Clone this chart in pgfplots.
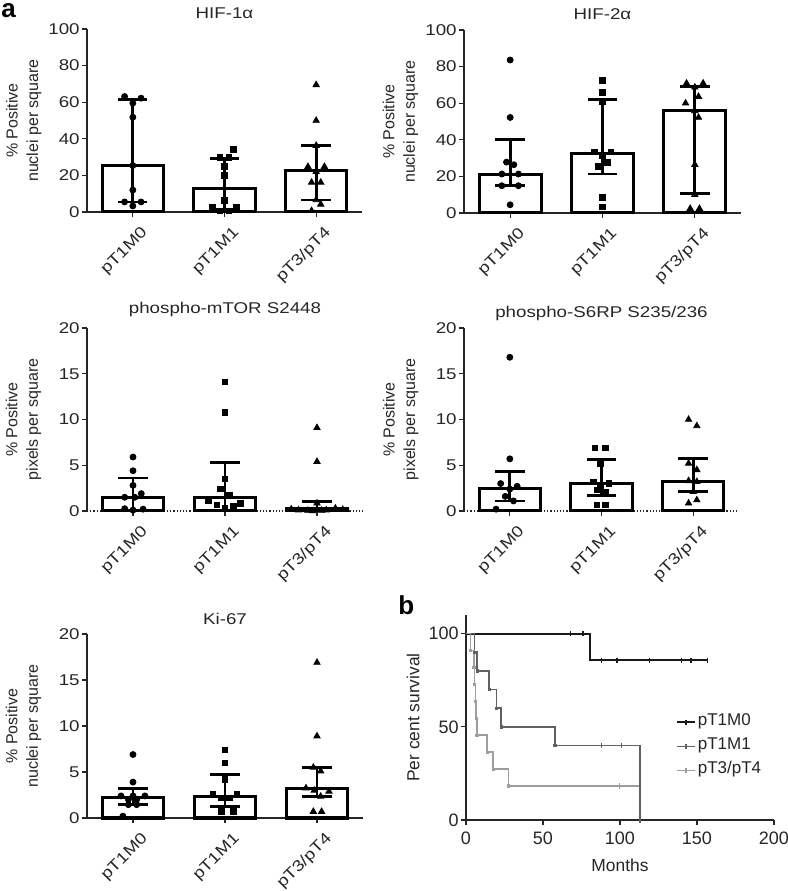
\documentclass[border=0pt]{standalone}
\usepackage{fontspec}
\setmainfont{Liberation Sans}
\newfontfamily\wide{Liberation Sans}[FakeStretch=1.2]
\usepackage{pgfplots}
\pgfplotsset{compat=1.18}

\definecolor{kmA}{gray}{0.1}
\definecolor{kmB}{gray}{0.38}
\definecolor{kmC}{gray}{0.62}

\tikzset{ttl/.style={anchor=base, yshift=5pt, font=\wide\fontsize{7.8}{9}\selectfont, text=black!85}}

\pgfplotsset{
  panel/.style={
    scale only axis, anchor=south west, clip=false,
    axis x line*=bottom, axis y line*=left,
    axis line style={-, line width=0.6pt, black!85},
    tick align=outside, major tick length=2.5pt,
    tick style={line width=0.6pt, black!85},
    /pgf/number format/assume math mode=true,
    ticklabel style={font=\wide\fontsize{7.8}{9}\selectfont, black!85},
    y tick label style={inner sep=1pt},
    label style={font=\fontsize{8}{9.75}\selectfont, black!85},
  },
  barpanel/.style={
    panel, height=91.5pt, xmin=-0.5, xmax=2.5, ymin=0,
    xtick={0,1,2}, xticklabels={pT1M0,pT1M1,pT3/pT4},
    x tick label style={yshift=-6pt, xshift=7pt, rotate=45, anchor=east, inner sep=1pt},
    ylabel style={align=center, at={(axis description cs:-0.14,0.5)}, anchor=south},
  },
  bars/.style={ybar, bar width=0.67, fill=white, draw=black, line width=1.5pt},
  circ/.style={only marks, mark=*, mark size=1.5pt, black},
  sq/.style={only marks, mark=square*, mark size=1.4pt, black},
  tri/.style={only marks, mark=triangle*, mark size=1.8pt, black},
  eb/.style={black, line width=1.4pt, unbounded coords=jump, mark=none},
}

\begin{document}
\begin{tikzpicture}
\useasboundingbox (0,0) rectangle (394pt,445.5pt);

\node[anchor=north west, inner sep=0pt, font=\bfseries\fontsize{13}{14}\selectfont] at (0.5pt,444pt) {a};
\node[anchor=north west, inner sep=0pt, font=\bfseries\fontsize{13}{14}\selectfont] at (199pt,148pt) {b};

% HIF-1alpha
\begin{axis}[barpanel, at={(43.5pt,339.5pt)}, width=137.5pt, ymax=100,
  ytick={0,20,40,60,80,100},
  ylabel={\% Positive\\[0.5pt]nuclei per square}]
\addplot[bars] coordinates {(0,25.4) (1,12.8) (2,22.6)};
\addplot[circ] coordinates {(-0.09,63.1) (0.09,62.2) (0,59.5) (0,51.8) (0,25.4) (0,12) (-0.09,5.5) (0.09,5.5) (0,3.3)};
\addplot[sq] coordinates {(1.10,34.3) (0.95,29.9) (1.05,29.9) (1,24.8) (1,19.9) (1,6.2) (0.87,2.6) (1.13,2.6) (0.95,0.7) (1.05,0.7)};
\addplot[tri] coordinates {(2,69.5) (2,50) (2,36.3) (1.91,24.8) (2.09,24.8) (2,22) (1.95,16.2) (2.05,16.2) (2,6.6) (2.05,4.2) (1.95,0.7)};
\addplot[eb] coordinates {
  (0,5.5) (0,61.3) (0,nan) (-0.16,61.3) (0.16,61.3) (0,nan) (-0.16,5.5) (0.16,5.5) (0,nan)
  (1,1.5) (1,29.2) (1,nan) (0.84,29.2) (1.16,29.2) (1,nan) (0.84,1.5) (1.16,1.5) (1,nan)
  (2,6.6) (2,36.3) (2,nan) (1.84,36.3) (2.16,36.3) (2,nan) (1.84,6.6) (2.16,6.6)};
\node[ttl] at (rel axis cs:0.5,1) {HIF-1α};
\end{axis}

% HIF-2alpha
\begin{axis}[barpanel, at={(232pt,339pt)}, width=138.5pt, ymax=100,
  ytick={0,20,40,60,80,100},
  ylabel={\% Positive\\[0.5pt]nuclei per square}]
\addplot[bars] coordinates {(0,20.9) (1,32.7) (2,55.8)};
\addplot[circ] coordinates {(0,83.6) (0,52.2) (-0.04,27.8) (0.04,26.4) (-0.09,21.3) (0.09,21.3) (-0.09,14.9) (0.09,14.9) (0,4.5)};
\addplot[sq] coordinates {(1,72.4) (1,65.8) (1,61) (0.91,33.3) (1.09,33.3) (1,31.5) (1.05,27.6) (0.95,25.5) (1,8.5) (1,3.3)};
\addplot[tri] coordinates {(1.91,70.9) (2.09,70.9) (2,68.7) (2.04,63.6) (1.9,60) (2,55.8) (2.04,52.2) (2,26.4) (2,10) (1.95,2.4) (2.05,2.4)};
\addplot[eb] coordinates {
  (0,14.9) (0,40) (0,nan) (-0.16,40) (0.16,40) (0,nan) (-0.16,14.9) (0.16,14.9) (0,nan)
  (1,21.3) (1,62.2) (1,nan) (0.84,62.2) (1.16,62.2) (1,nan) (0.84,21.3) (1.16,21.3) (1,nan)
  (2,10.5) (2,69.1) (2,nan) (1.84,69.1) (2.16,69.1) (2,nan) (1.84,10.5) (2.16,10.5)};
\node[ttl] at (rel axis cs:0.5,1) {HIF-2α};
\end{axis}

% phospho-mTOR
\begin{axis}[barpanel, at={(43.5pt,190pt)}, width=138pt, ymax=20,
  ytick={0,5,10,15,20},
  x axis line style={densely dotted, line width=0.9pt},
  ylabel={\% Positive\\[0.5pt]pixels per square}]
\addplot[bars] coordinates {(0,1.5) (1,1.5) (2,0.25)};
\addplot[circ] coordinates {(0,5.9) (0,4.4) (0,2.8) (0.09,1.9) (-0.09,1.5) (0.02,1.5) (-0.09,0.25) (0,0.1) (0.11,0.2)};
\addplot[sq] coordinates {(1,14.1) (1,10.8) (1,3.5) (0.95,2.4) (1.05,1.75) (0.82,1.1) (1.17,0.85) (0.91,0.65) (1.09,0.55) (1,0.3)};
\addplot[tri] coordinates {(2,9.1) (2,5.4) (2,0.85) (1.72,0.2) (1.8,0.1) (1.9,0.05) (1.95,0) (2.05,0.05) (2.1,0.1) (2.2,0.3) (2.28,0.15)};
\addplot[eb] coordinates {
  (0,0.1) (0,3.6) (0,nan) (-0.16,3.6) (0.16,3.6) (0,nan)
  (1,0.4) (1,5.3) (1,nan) (0.84,5.3) (1.16,5.3) (1,nan)
  (2,0) (2,1.0) (2,nan) (1.84,1.0) (2.16,1.0)};
\node[ttl, yshift=2pt] at (rel axis cs:0.5,1) {phospho-mTOR S2448};
\end{axis}

% phospho-S6RP
\begin{axis}[barpanel, at={(232pt,190pt)}, width=137.5pt, ymax=20,
  ytick={0,5,10,15,20},
  x axis line style={densely dotted, line width=0.9pt},
  ylabel={\% Positive\\[0.5pt]pixels per square}]
\addplot[bars] coordinates {(0,2.5) (1,3.0) (2,3.25)};
\addplot[circ] coordinates {(0,16.8) (0,5.7) (-0.1,3.0) (0.08,2.7) (0,2.4) (-0.05,1.6) (0.04,1.1) (-0.15,0.2)};
\addplot[sq] coordinates {(0.93,6.9) (1.04,6.9) (0.99,5.2) (0.91,3.2) (1.08,3.0) (0.99,2.7) (0.95,2.3) (1.04,2.0) (0.95,0.65) (1.04,0.65)};
\addplot[tri] coordinates {(1.95,10.0) (2.04,9.3) (1.95,5.2) (2.04,4.5) (1.95,3.3) (2.04,3.2) (2,2.1) (2.04,1.2) (1.95,0.85)};
\addplot[eb] coordinates {
  (0,1.1) (0,4.3) (0,nan) (-0.16,4.3) (0.16,4.3) (0,nan) (-0.16,1.1) (0.16,1.1) (0,nan)
  (1,1.7) (1,5.6) (1,nan) (0.84,5.6) (1.16,5.6) (1,nan) (0.84,1.7) (1.16,1.7) (1,nan)
  (2,2.1) (2,5.7) (2,nan) (1.84,5.7) (2.16,5.7) (2,nan) (1.84,2.1) (2.16,2.1)};
\node[ttl] at (rel axis cs:0.5,1) {phospho-S6RP S235/236};
\end{axis}

% Ki-67
\begin{axis}[barpanel, at={(43.5pt,36.5pt)}, width=138pt, height=92pt, ymax=20,
  ytick={0,5,10,15,20},
  ylabel={\% Positive\\[0.5pt]nuclei per square}]
\addplot[bars] coordinates {(0,2.2) (1,2.35) (2,3.25)};
\addplot[circ] coordinates {(0,6.9) (0,3.9) (-0.13,2.4) (0,2.4) (0.13,2.4) (-0.05,2.0) (0.04,2.0) (-0.05,1.45) (0.04,1.45) (-0.11,0.2)};
\addplot[sq] coordinates {(1,7.4) (1,6.0) (1,4.2) (0.87,2.6) (1.13,2.6) (0.96,2.2) (1.05,2.2) (0.96,0.7) (1.09,0.7)};
\addplot[tri] coordinates {(2,16.9) (2,8.9) (1.96,5.5) (2.04,5.1) (1.88,3.25) (1.97,3.0) (2.13,2.9) (2.04,2.35) (1.96,0.7) (2.05,0.7)};
\addplot[eb] coordinates {
  (0,1.45) (0,3.2) (0,nan) (-0.16,3.2) (0.16,3.2) (0,nan) (-0.16,1.45) (0.16,1.45) (0,nan)
  (1,1.25) (1,4.7) (1,nan) (0.84,4.7) (1.16,4.7) (1,nan) (0.84,1.25) (1.16,1.25) (1,nan)
  (2,2.35) (2,5.5) (2,nan) (1.84,5.5) (2.16,5.5) (2,nan) (1.84,2.35) (2.16,2.35)};
\node[ttl] at (rel axis cs:0.5,1) {Ki-67};
\end{axis}

% Kaplan-Meier
\begin{axis}[panel, at={(233pt,35.5pt)}, width=154pt, height=102.5pt,
  xmin=0, xmax=200, ymin=0, ymax=110,
  xtick={0,50,100,150,200}, ytick={0,50,100},
  ticklabel style={font=\fontsize{9}{11}\selectfont},
  label style={font=\fontsize{8.7}{11}\selectfont},
  xlabel={Months}, ylabel={Per cent survival},
  legend style={draw=none, fill=none, at={(0.68,0.537)}, anchor=north west,
    font=\fontsize{8.5}{10}\selectfont, inner sep=0pt, row sep=0pt, text=black!85,
    nodes={inner sep=1pt, text height=6.5pt, text depth=3.5pt}},
  legend cell align=left,
  legend image code/.code={\draw[#1] (0pt,0pt) -- (9pt,0pt); \draw[#1] (4.5pt,-1.1pt) -- (4.5pt,1.1pt);},
]
\addplot[const plot, kmA, line width=1pt] coordinates {(0,100) (80.5,85.7) (157,85.7)};
\addlegendentry{pT1M0}
\addplot[const plot, kmB, line width=0.8pt] coordinates {(0,100) (5.4,90) (7.3,80) (15.1,70) (19.9,60) (22.9,50) (57.8,40) (113,0)};
\addlegendentry{pT1M1}
\addplot[const plot, kmC, line width=0.8pt] coordinates {(0,100) (3,90.9) (5,81.8) (5.6,72.7) (6.1,63.6) (6.6,54.5) (7.1,45.5) (13.8,36.4) (17.7,27.3) (27.5,18.2) (112.5,18.2)};
\addlegendentry{pT3/pT4}
% censored
\addplot[forget plot, only marks, mark=|, mark size=1.3pt, kmA, line width=0.7pt] coordinates {(68,100) (76,100) (88,85.7) (98,85.7) (119,85.7) (140,85.7) (146,85.7) (157,85.7)};
\addplot[forget plot, only marks, mark=|, mark size=1.3pt, kmB, line width=0.7pt] coordinates {(88,40) (101,40) (113,0)};
\addplot[forget plot, only marks, mark=|, mark size=1.3pt, kmC, line width=0.7pt] coordinates {(99.5,18.2)};
% events
\addplot[forget plot, only marks, mark=square*, mark size=0.6pt, kmB] coordinates {(5.4,90) (7.3,80) (15.1,70) (19.9,60) (22.9,50) (57.8,40)};
\addplot[forget plot, only marks, mark=square*, mark size=0.6pt, kmC] coordinates {(3,90.9) (5,81.8) (5.6,72.7) (6.1,63.6) (6.6,54.5) (7.1,45.5) (13.8,36.4) (17.7,27.3) (27.5,18.2)};
\end{axis}
\end{tikzpicture}
\end{document}
